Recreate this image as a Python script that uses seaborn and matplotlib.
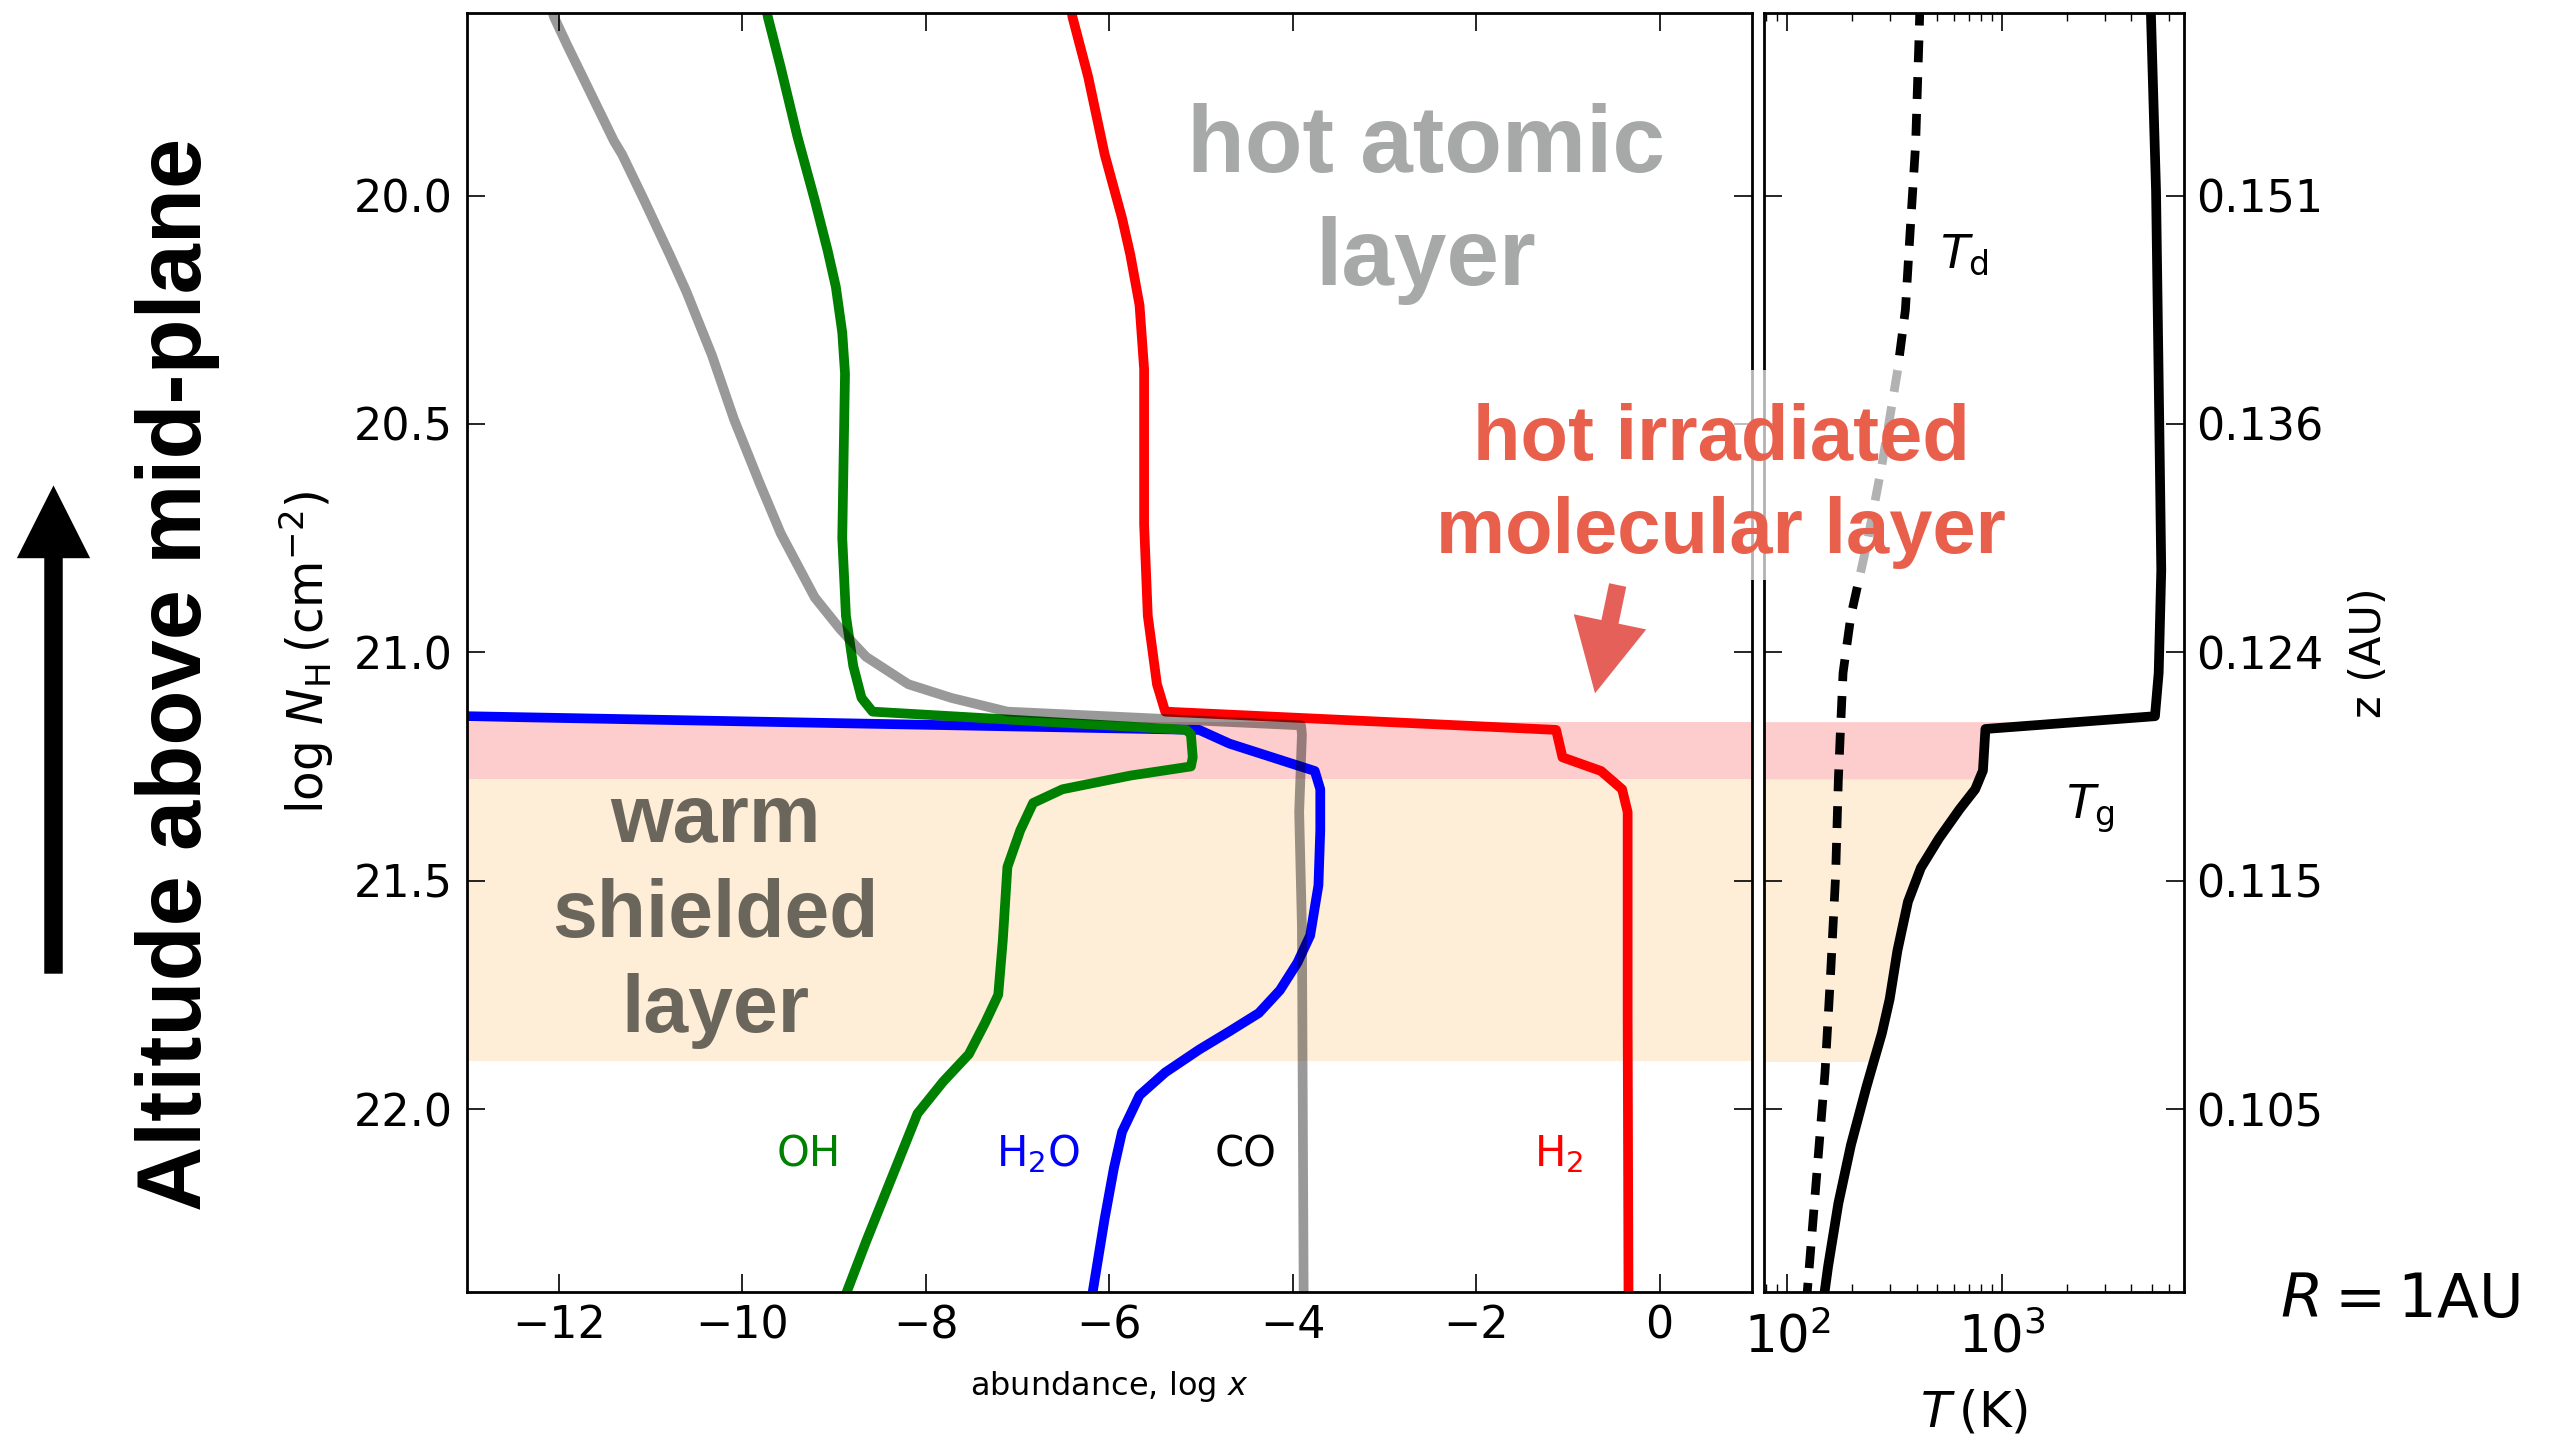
import numpy as np
import matplotlib
matplotlib.use("Agg")
import matplotlib.pyplot as plt
import seaborn as sns
from matplotlib.patches import FancyArrow, Rectangle
from matplotlib.ticker import NullFormatter, LogLocator

# ---------------- data ----------------
# left panel: abundances log x versus column density log N_H
co_x = [-12.15, -12.05, -11.91, -11.40, -11.31, -11.07, -10.79, -10.61, -10.33, -10.09,
        -9.81, -9.58, -9.21, -8.93, -8.65, -8.19, -7.72, -7.11, -3.91, -3.90, -3.93,
        -3.90, -3.88]
co_nh = [19.55, 19.61, 19.67, 19.88, 19.91, 20.01, 20.13, 20.21, 20.35, 20.49,
         20.63, 20.74, 20.88, 20.95, 21.01, 21.07, 21.10, 21.13, 21.16, 21.18, 21.35,
         21.60, 22.45]

oh_x = [-9.78, -9.72, -9.58, -9.40, -9.21, -9.07, -8.98, -8.91, -8.88, -8.89, -8.91,
        -8.87, -8.79, -8.70, -8.58, -5.16, -5.11, -5.09, -5.11, -5.77, -6.51, -6.83,
        -6.97, -7.11, -7.16, -7.21, -7.35, -7.53, -7.81, -8.09, -8.37, -8.65, -8.86, -8.88]
oh_nh = [19.55, 19.61, 19.72, 19.87, 20.01, 20.12, 20.20, 20.30, 20.39, 20.51, 20.75,
         20.92, 21.03, 21.10, 21.13, 21.17, 21.18, 21.23, 21.25, 21.27, 21.30, 21.33,
         21.39, 21.47, 21.63, 21.75, 21.81, 21.88, 21.94, 22.01, 22.15, 22.29, 22.40, 22.45]

h2_x = [-6.45, -6.40, -6.23, -6.05, -5.86, -5.77, -5.67, -5.62, -5.62, -5.62, -5.58,
        -5.48, -5.39, -1.13, -1.06, -0.64, -0.41, -0.35, -0.35, -0.34]
h2_nh = [19.55, 19.61, 19.74, 19.91, 20.05, 20.13, 20.24, 20.38, 20.51, 20.72, 20.92,
         21.07, 21.13, 21.17, 21.23, 21.26, 21.30, 21.35, 21.80, 22.45]

h2o_x = [-14.0, -13.0, -5.02, -4.69, -3.76, -3.70, -3.70, -3.72, -3.81, -3.95, -4.14,
         -4.37, -4.69, -5.02, -5.39, -5.67, -5.86, -5.95, -6.05, -6.18, -6.21]
h2o_nh = [21.137, 21.14, 21.17, 21.20, 21.26, 21.30, 21.39, 21.51, 21.62, 21.68, 21.74,
          21.79, 21.83, 21.87, 21.92, 21.97, 22.05, 22.13, 22.24, 22.40, 22.45]

# right panel: temperatures (K)
td_T = [415, 412, 396, 375, 355, 326, 276, 234, 198, 182, 177, 173, 168, 159, 150, 138, 124, 122]
td_nh = [19.58, 19.636, 19.889, 20.065, 20.25, 20.385, 20.59, 20.767, 20.92, 21.045, 21.17,
         21.28, 21.49, 21.71, 21.92, 22.13, 22.40, 22.43]

tg_T = [4930, 5210, 5360, 5510, 5360, 5150, 837, 815, 750, 634, 508, 419, 365, 326, 300,
        276, 234, 198, 173, 155, 149, 147]
tg_nh = [19.60, 19.99, 20.405, 20.82, 21.045, 21.14, 21.168, 21.259, 21.30, 21.344, 21.408,
         21.472, 21.546, 21.653, 21.759, 21.834, 21.951, 22.079, 22.207, 22.345, 22.404, 22.43]

# layers (log N_H ranges)
irradiated_band = [21.152, 21.278]
shielded_band = [21.278, 21.896]

# ticks
x_ticks = [-12, -10, -8, -6, -4, -2, 0]
nh_ticks = [20.0, 20.5, 21.0, 21.5, 22.0]
z_labels = ["0.151", "0.136", "0.124", "0.115", "0.105"]

species = ["OH", "H$_2$O", "CO", "H$_2$"]
species_x = [-9.27, -6.78, -4.51, -1.10]
species_colors = ["green", "blue", "black", "red"]

# ---------------- style ----------------
sns.set_theme(style="ticks")
plt.rcParams["font.family"] = ["DejaVu Sans"]
plt.rcParams["mathtext.fontset"] = "dejavusans"
plt.rcParams["axes.unicode_minus"] = True
for k in ["axes.edgecolor", "xtick.color", "ytick.color", "text.color", "axes.labelcolor"]:
    plt.rcParams[k] = "black"

W, H = 2555, 1443
fig = plt.figure(figsize=(W / 100, H / 100), dpi=100)


def fx(px):
    return px / W


def fy(py):
    return 1 - py / H


top_px, bot_px = 12.8, 1291.7
ax = fig.add_axes([fx(467), fy(bot_px), (1751.5 - 467) / W, (bot_px - top_px) / H])
axT = fig.add_axes([fx(1764), fy(bot_px), (2183.6 - 1764) / W, (bot_px - top_px) / H])

PINK = "#fdcccc"
CREAM = "#feeed7"

# ---------------- left panel ----------------
ax.axhspan(*irradiated_band, color=PINK, lw=0, zorder=0)
ax.axhspan(*shielded_band, color=CREAM, lw=0, zorder=0)

lw = 7.0
sns.lineplot(x=h2o_x, y=h2o_nh, sort=False, estimator=None, color="blue", lw=lw, ax=ax)
sns.lineplot(x=h2_x, y=h2_nh, sort=False, estimator=None, color="red", lw=lw, ax=ax)
sns.lineplot(x=oh_x, y=oh_nh, sort=False, estimator=None, color="green", lw=lw, ax=ax)
sns.lineplot(x=co_x, y=co_nh, sort=False, estimator=None, color="black", alpha=0.4, lw=lw, ax=ax)

for name, xx, cc in zip(species, species_x, species_colors):
    ax.text(xx, 22.125, name, color=cc, fontsize=30, ha="center", va="baseline")

ax.set_xlim(-13, 1)
ax.set_ylim(22.40, 19.60)
ax.set_xticks(x_ticks)
ax.set_yticks(nh_ticks)
ax.tick_params(axis="both", which="major", direction="in", length=13, width=1.2,
               labelsize=32, top=True, right=True)
ax.tick_params(axis="x", pad=9)
ax.tick_params(axis="y", pad=10)
ax.set_xlabel(r"abundance, $\log\,x$", fontsize=23, labelpad=16)
ax.set_ylabel(r"$\log\,N_{\rm H}\,({\rm cm}^{-2})$", fontsize=35, labelpad=13)

# ---------------- right panel ----------------
axT.set_xscale("log")
for band, col in [(irradiated_band, PINK), (shielded_band, CREAM)]:
    yy = np.linspace(band[0], band[1], 80)
    xx = 10 ** np.interp(yy, tg_nh, np.log10(tg_T))
    axT.fill_betweenx(yy, 1, xx, color=col, lw=0, zorder=0)

sns.lineplot(x=td_T, y=td_nh, sort=False, estimator=None, color="black", lw=6.3, ax=axT)
axT.lines[-1].set_dashes([2.5, 1.7])
sns.lineplot(x=tg_T, y=tg_nh, sort=False, estimator=None, color="black", lw=7.0, ax=axT)

axT.text(667, 20.131, r"$T_{\rm d}$", fontsize=34, ha="center", va="center")
axT.text(2582, 21.343, r"$T_{\rm g}$", fontsize=34, ha="center", va="center")

axT.set_xlim(78, 7000)
axT.set_ylim(22.40, 19.60)
axT.xaxis.set_major_locator(LogLocator(base=10))
axT.xaxis.set_minor_locator(LogLocator(base=10, subs=np.arange(2, 10)))
axT.xaxis.set_minor_formatter(NullFormatter())
axT.set_yticks(nh_ticks)
axT.set_yticklabels(z_labels)
axT.yaxis.set_label_position("right")
axT.tick_params(axis="both", which="major", direction="in", length=13, width=1.2,
                labelsize=32, top=True, bottom=True, left=True, right=True,
                labelleft=False, labelright=True)
axT.tick_params(axis="x", which="major", labelsize=37, pad=15)
axT.tick_params(axis="x", which="minor", direction="in", length=6, width=1.0,
                top=True, bottom=True)
axT.tick_params(axis="y", pad=9)
axT.set_xlabel(r"$T\,({\rm K})$", fontsize=36, labelpad=18)
axT.set_ylabel("z (AU)", fontsize=31, labelpad=18)

for a in (ax, axT):
    for s in a.spines.values():
        s.set_linewidth(2.0)
        s.set_color("black")
    a.set_facecolor("white")

# ---------------- annotations ----------------
BOLD = dict(family=["Liberation Sans", "DejaVu Sans"], weight="bold")
GRAY_TXT = "#a6a9a7"
WARM_TXT = "#6b665c"
RED_TXT = "#e8604c"

fig.text(fx(1426), fy(171.7), "hot atomic", color=GRAY_TXT, fontsize=68, ha="center", va="baseline", **BOLD)
fig.text(fx(1426), fy(285), "layer", color=GRAY_TXT, fontsize=68, ha="center", va="baseline", **BOLD)

fig.text(fx(715), fy(841.7), "warm", color=WARM_TXT, fontsize=58, ha="center", va="baseline", **BOLD)
fig.text(fx(715), fy(937), "shielded", color=WARM_TXT, fontsize=58, ha="center", va="baseline", **BOLD)
fig.text(fx(715), fy(1032), "layer", color=WARM_TXT, fontsize=58, ha="center", va="baseline", **BOLD)

box = Rectangle((fx(1432), fy(580)), (2012 - 1432) / W, (580 - 370) / H, transform=fig.transFigure,
                facecolor="white", edgecolor="none", alpha=0.7, zorder=5)
fig.add_artist(box)
fig.text(fx(1721), fy(460), "hot irradiated", color=RED_TXT, fontsize=56, ha="center",
         va="baseline", zorder=6, **BOLD)
fig.text(fx(1721), fy(553.3), "molecular layer", color=RED_TXT, fontsize=56, ha="center",
         va="baseline", zorder=6, **BOLD)

red_arrow = FancyArrow(16.177, (H - 585) / 100, (1595 - 1617.7) / 100, -(693.3 - 585) / 100,
                       width=0.175, head_width=0.74, head_length=0.73, length_includes_head=True,
                       color="#e6605a", lw=0, transform=fig.dpi_scale_trans, zorder=6)
fig.add_artist(red_arrow)

black_arrow = FancyArrow(0.535, (H - 973.7) / 100, 0, (973.7 - 485.4) / 100,
                         width=0.185, head_width=0.733, head_length=0.728, length_includes_head=True,
                         color="black", lw=0, transform=fig.dpi_scale_trans)
fig.add_artist(black_arrow)

fig.text(fx(178), fy(674), "Altitude above mid-plane", rotation=90, fontsize=65,
         ha="center", va="center", color="black", **BOLD)

fig.text(fx(2400), fy(1301), r"$R=1$AU", fontsize=44, ha="center", va="center")

fig.savefig("out.png", dpi=100)
